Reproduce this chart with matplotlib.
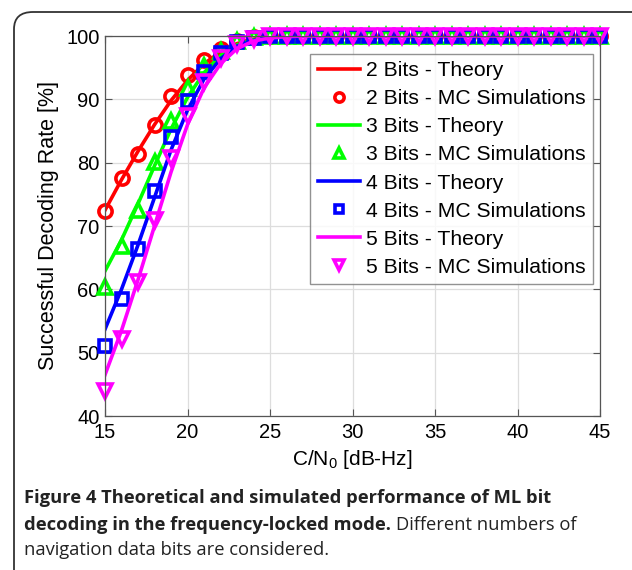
import numpy as np
import matplotlib
matplotlib.use("Agg")
import matplotlib.pyplot as plt
from matplotlib.patches import FancyBboxPatch

# C/N0 axis (dB-Hz)
cn0 = np.arange(15, 46)

# theory curves, sampled at each integer C/N0 from 15 up
th_2 = [72.5, 77.3, 81.8, 86.0, 89.8, 93.0, 95.6, 97.5, 98.8, 99.5, 99.8, 99.95]
th_3 = [62.9, 67.8, 73.5, 79.5, 85.3, 90.3, 94.2, 96.9, 98.6, 99.4, 99.8, 99.95]
th_4 = [53.7, 60.0, 67.0, 74.5, 82.0, 88.3, 93.2, 96.4, 98.4, 99.3, 99.8, 99.95]
th_5 = [46.5, 53.5, 61.5, 70.0, 78.5, 86.0, 91.8, 95.6, 98.0, 99.2, 99.7, 99.9]

# Monte Carlo results at 15..24 dB-Hz, then 100 % onwards
mc_2 = [72.3, 77.6, 81.3, 85.9, 90.6, 93.9, 96.2, 97.9, 99.2, 99.8]
mc_3 = [60.4, 66.8, 72.6, 80.1, 86.6, 91.8, 95.3, 97.6, 99.2, 99.8]
mc_4 = [51.0, 58.5, 66.4, 75.6, 84.1, 89.7, 94.3, 97.3, 99.0, 99.7]
mc_5 = [44.0, 52.1, 61.1, 70.9, 80.8, 87.4, 92.7, 96.5, 98.8, 99.6]


def pad(vals):
    return np.array(list(vals) + [100.0] * (len(cn0) - len(vals)))


# bits, theory, MC, colour, marker, marker size
series = [
    ("2", th_2, mc_2, (1, 0, 0), "o", 9.5),
    ("3", th_3, mc_3, (0, 1, 0), "^", 9.5),
    ("4", th_4, mc_4, (0, 0, 1), "s", 8.0),
    ("5", th_5, mc_5, (1, 0, 1), "v", 9.5),
]

plt.rcParams["font.family"] = ["Liberation Sans", "DejaVu Sans"]
plt.rcParams["mathtext.fontset"] = "custom"
plt.rcParams["mathtext.rm"] = "Liberation Sans"
plt.rcParams["mathtext.it"] = "Liberation Sans"

fig = plt.figure(figsize=(6.32, 5.70), dpi=100)

# outer frame with rounded corners, running off the right and bottom edges
frame = FancyBboxPatch((14 / 632, -0.1), 1.2, 1 - 12 / 570 + 0.1,
                       boxstyle="round,pad=0,rounding_size=0.03",
                       transform=fig.transFigure, fill=False,
                       edgecolor="#333333", linewidth=1.3)
fig.patches.append(frame)

ax = fig.add_axes([105 / 632, 1 - 416 / 570, 495 / 632, 380 / 570])

for nb, th, mc, col, mk, ms in series:
    ax.plot(cn0, pad(th), "-", color=col, linewidth=2.6,
            label=nb + " Bits - Theory")
    ax.plot(cn0, pad(mc), mk, color=col, markerfacecolor="none",
            markeredgewidth=2.6, markersize=ms, clip_on=False,
            label=nb + " Bits - MC Simulations")

ax.set_xlim(15, 45)
ax.set_ylim(40, 100)
ax.set_xticks(np.arange(15, 46, 5))
ax.set_yticks(np.arange(40, 101, 10))
ax.grid(True, color="#dddddd", linewidth=0.9)
ax.set_axisbelow(True)
ax.tick_params(direction="in", top=True, right=True, labelsize=14.5,
               length=5, color="#555555")
ax.tick_params(axis="x", pad=5)
ax.tick_params(axis="y", pad=4)
for sp in ax.spines.values():
    sp.set_color("#555555")
    sp.set_linewidth(0.9)

ax.set_xlabel("C/N$_\\mathrm{0}$ [dB-Hz]", fontsize=15, labelpad=4)
ax.set_ylabel("Successful Decoding Rate [%]", fontsize=15.5, labelpad=5)

leg = ax.legend(loc="upper right", bbox_to_anchor=(0.986, 0.953),
                fontsize=15.2, frameon=True, fancybox=False,
                handlelength=2.0, handletextpad=0.3, labelspacing=0.43,
                borderpad=0.35, borderaxespad=0, markerscale=0.7)
leg.get_frame().set_edgecolor("#777777")
leg.get_frame().set_linewidth(1.0)

# caption under the chart
cap = dict(fontsize=13.2, family="Open Sans", color="#222222", va="baseline")
fig.text(24 / 632, 1 - 503 / 570,
         "Figure 4 Theoretical and simulated performance of ML bit",
         weight="bold", **cap)
t = fig.text(24 / 632, 1 - 530 / 570,
             "decoding in the frequency-locked mode.", weight="bold", **cap)
fig.canvas.draw()
bb = t.get_window_extent()
fig.text(bb.x1 / 632 + 0.008, 1 - 530 / 570, "Different numbers of",
         **cap)
fig.text(24 / 632, 1 - 555 / 570, "navigation data bits are considered.",
         **cap)

fig.savefig("out.png", dpi=100)
